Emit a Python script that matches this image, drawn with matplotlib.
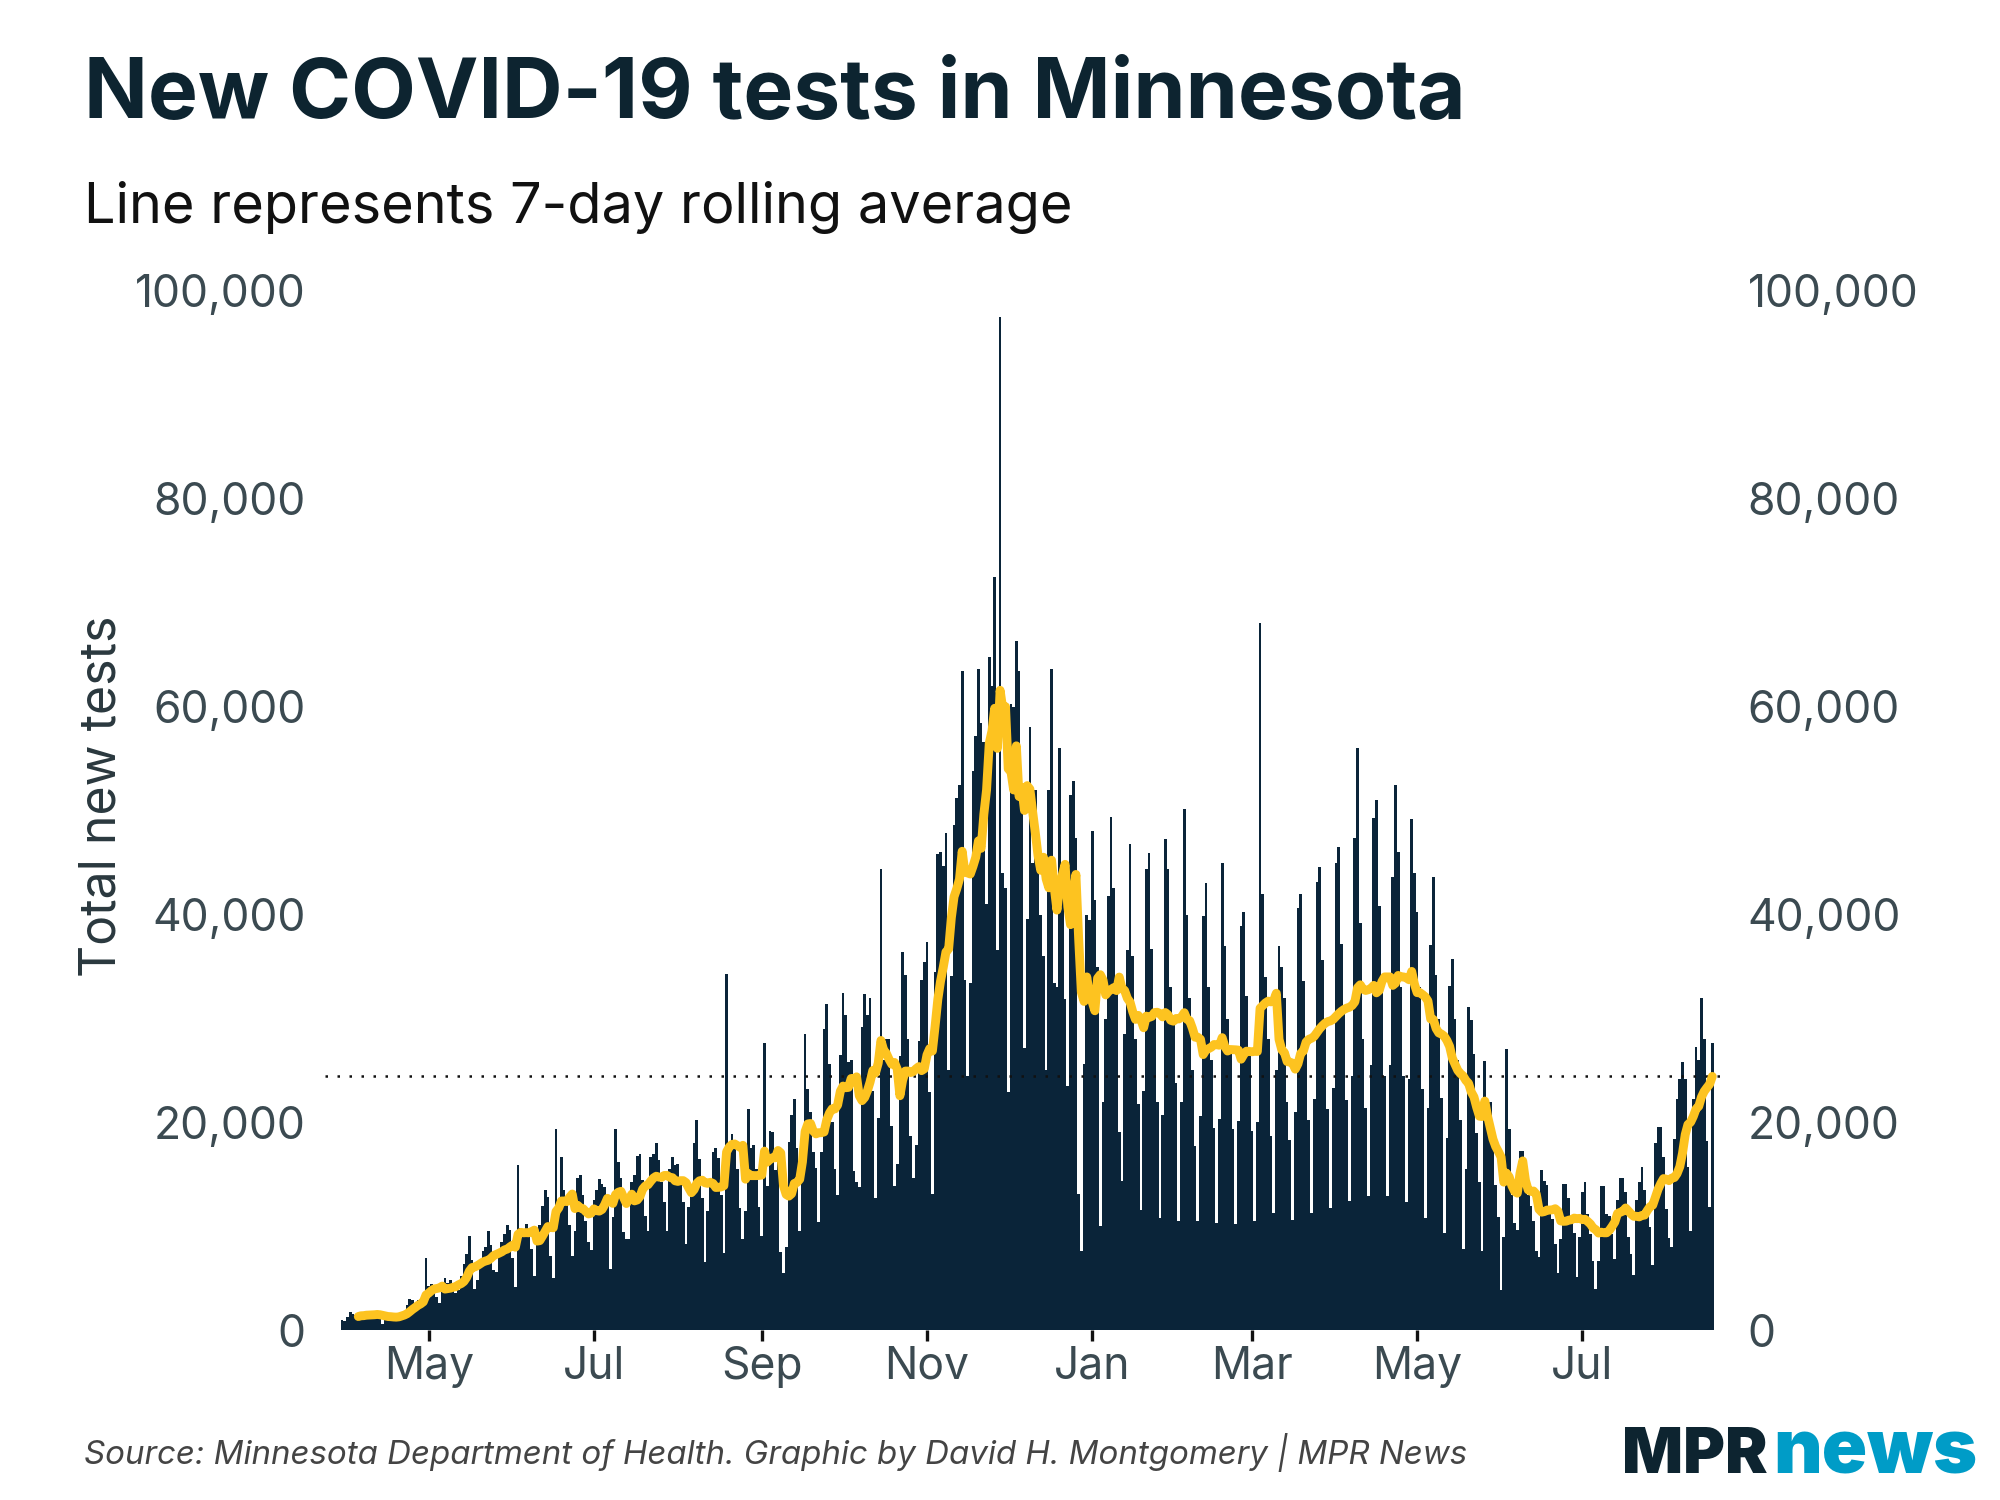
import numpy as np
import pandas as pd
import matplotlib
matplotlib.use("Agg")
import matplotlib.pyplot as plt
import matplotlib.dates as mdates
from matplotlib.ticker import FuncFormatter

plt.rcParams["font.family"] = ["Inter", "DejaVu Sans"]

NAVY = "#0a2439"
GOLD = "#fdc320"
TEXT_DARK = "#0d2430"
TEXT_GREY = "#3b4a51"

first_day = "2020-03-30"

# new tests reported per day, in thousands
# first value is Mon Mar 30 2020, then one row per week (Tue .. Mon)
new_tests_k = [
    1.0,
    0.9, 1.3, 1.8, 1.6, 1.5, 1.2, 1.5,
    1.0, 1.6, 1.9, 1.7, 1.6, 1.4, 1.3,
    0.6, 1.2, 1.5, 1.6, 1.4, 1.3, 1.5,
    1.2, 1.8, 2.4, 3.0, 2.9, 2.6, 2.9,
    2.2, 3.2, 7.0, 4.3, 4.5, 3.8, 3.2,
    2.6, 4.4, 5.0, 4.6, 4.8, 4.4, 3.6,
    3.9, 5.2, 6.4, 7.3, 9.1, 6.8, 4.0,
    4.8, 6.4, 7.6, 8.0, 9.6, 8.2, 5.8,
    5.6, 7.2, 8.5, 9.3, 10.1, 9.7, 7.0,
    4.2, 15.9, 9.8, 9.0, 10.2, 9.6, 7.8,
    5.2, 8.5, 10.1, 12.0, 13.5, 12.8, 7.2,
    5.0, 19.4, 12.5, 16.7, 13.5, 12.4, 10.1,
    7.2, 9.6, 14.7, 14.9, 13.0, 10.5, 8.5,
    7.7, 12.5, 13.5, 14.6, 14.1, 13.8, 12.7,
    5.9, 10.9, 19.4, 16.2, 14.7, 9.5, 8.8,
    8.8, 14.3, 14.9, 16.8, 17.0, 14.5, 11.0,
    9.6, 16.7, 17.0, 18.0, 16.4, 14.3, 12.3,
    9.6, 15.5, 16.7, 15.9, 16.0, 14.8, 12.3,
    8.3, 11.9, 13.5, 18.0, 20.2, 16.5, 12.7,
    6.6, 11.5, 14.2, 17.2, 17.5, 16.6, 13.0,
    7.4, 34.3, 17.5, 18.9, 17.8, 15.5, 11.8,
    8.8, 11.5, 21.3, 17.5, 17.8, 15.5, 11.9,
    9.1, 27.6, 13.9, 19.2, 19.1, 15.4, 16.8,
    7.5, 5.5, 8.0, 18.1, 20.7, 22.3, 17.5,
    9.6, 17.2, 28.5, 23.2, 21.0, 17.2, 15.6,
    10.4, 17.2, 29.0, 31.4, 25.6, 20.0, 15.5,
    13.0, 26.5, 32.5, 30.3, 25.8, 26.0, 15.3,
    14.3, 13.8, 29.2, 32.4, 30.3, 32.0, 23.0,
    12.7, 20.4, 44.4, 26.0, 28.0, 28.0, 19.7,
    13.9, 16.0, 26.4, 36.4, 34.2, 28.0, 18.7,
    14.7, 17.8, 27.8, 33.7, 35.4, 37.4, 22.9,
    13.1, 34.5, 45.8, 46.0, 44.7, 47.8, 25.0,
    34.1, 48.6, 51.2, 52.5, 63.4, 33.7, 24.5,
    33.4, 53.8, 57.2, 63.6, 58.4, 56.6, 41.0,
    64.8, 62.0, 72.5, 36.6, 97.5, 44.0, 42.6,
    22.9, 60.3, 60.0, 66.3, 63.4, 50.0, 27.2,
    39.6, 58.0, 45.0, 52.0, 48.0, 40.0, 36.0,
    25.0, 52.0, 63.6, 33.4, 33.0, 56.0, 43.9,
    31.9, 23.5, 51.5, 52.8, 47.4, 13.1, 7.6,
    25.6, 40.0, 39.5, 48.0, 41.4, 35.0, 10.0,
    22.0, 30.0, 41.8, 49.4, 42.6, 33.0, 19.1,
    14.4, 28.5, 36.6, 46.8, 36.0, 28.0, 21.8,
    11.6, 23.0, 44.4, 45.9, 36.7, 30.6, 22.0,
    10.8, 20.7, 47.3, 44.4, 33.0, 30.0, 23.8,
    10.5, 22.0, 50.2, 40.0, 32.0, 25.0, 17.7,
    10.5, 20.6, 39.9, 43.0, 33.0, 26.0, 19.5,
    10.3, 20.3, 45.0, 37.0, 30.0, 27.0, 19.4,
    10.2, 20.1, 38.9, 40.2, 32.2, 26.8, 19.2,
    10.5, 20.0, 68.0, 42.0, 34.0, 28.0, 18.7,
    11.3, 25.0, 37.0, 35.0, 32.0, 22.0, 18.3,
    10.6, 21.0, 40.6, 42.0, 33.6, 28.0, 20.2,
    11.3, 22.3, 43.1, 44.6, 35.6, 29.7, 21.3,
    11.8, 23.3, 45.0, 46.5, 37.2, 31.0, 22.2,
    12.4, 24.5, 47.4, 56.0, 39.2, 28.0, 21.4,
    12.9, 25.5, 49.3, 51.0, 40.8, 34.0, 24.5,
    12.9, 25.5, 43.6, 52.5, 46.0, 33.0, 24.5,
    12.3, 24.2, 49.2, 44.0, 40.2, 33.0, 23.2,
    10.8, 21.4, 37.1, 43.6, 34.2, 30.0, 22.4,
    9.4, 18.5, 33.1, 35.7, 30.0, 26.0, 20.2,
    7.8, 15.5, 31.1, 29.9, 26.6, 19.0, 14.3,
    7.6, 25.9, 21.0, 22.0, 19.0, 14.0, 10.9,
    3.9, 9.0, 27.1, 19.4, 13.0, 10.3, 9.7,
    17.3, 17.3, 14.0, 13.0, 12.0, 10.5, 7.6,
    7.1, 15.4, 14.4, 14.0, 12.0, 10.7, 8.3,
    5.5, 8.8, 14.1, 14.1, 12.7, 11.0, 9.4,
    5.1, 9.0, 13.3, 14.3, 11.2, 9.3, 6.7,
    4.0, 6.7, 13.9, 13.9, 11.2, 11.0, 9.3,
    6.9, 12.5, 14.7, 14.7, 13.3, 9.0, 7.3,
    5.3, 12.5, 14.3, 15.7, 13.5, 12.1, 9.9,
    6.3, 18.0, 19.6, 19.6, 16.7, 11.7, 8.9,
    8.0, 18.4, 22.3, 24.2, 25.8, 24.2, 15.7,
    9.6, 22.3, 27.3, 26.0, 32.0, 28.0, 18.2,
    11.9, 27.6,
]

y_ticks = [0, 20000, 40000, 60000, 80000, 100000]
tick_months = (1, 3, 5, 7, 9, 11)

dates = pd.date_range(first_day, periods=len(new_tests_k), freq="D")
tests = np.array(new_tests_k) * 1000
rolling = pd.Series(tests, index=dates).rolling(7).mean()

fig = plt.figure(figsize=(10, 7.5), dpi=200)
fig.patch.set_facecolor("white")
ax = fig.add_axes([0.1625, 0.1131, 0.7015, 0.693])

ax.bar(dates, tests, width=1.0, color=NAVY, linewidth=0, zorder=2)
ax.plot(rolling.index, rolling.values, color=GOLD, lw=3.2,
        solid_capstyle="round", solid_joinstyle="round", zorder=4)
# dotted reference at the latest 7-day average
ax.axhline(rolling.iloc[-1], color="#111111", lw=0.9, ls=(0, (1, 3.8)), zorder=3)

x0 = mdates.date2num(dates[0])
ax.set_xlim(x0 - 6.3, x0 + 511.8)
ax.set_ylim(0, 100000)

for s in ax.spines.values():
    s.set_visible(False)

ax.set_yticks(y_ticks)
ax.yaxis.set_major_formatter(FuncFormatter(lambda v, p: f"{v:,.0f}"))
ax.tick_params(axis="y", length=0, labelsize=16, labelcolor=TEXT_GREY,
               pad=7, labelleft=True, labelright=True)

ax.xaxis.set_major_locator(mdates.MonthLocator(bymonth=tick_months))
ax.xaxis.set_major_formatter(mdates.DateFormatter("%b"))
ax.tick_params(axis="x", length=4, width=1.2, color="#111111",
               labelsize=16, labelcolor=TEXT_GREY, pad=1.5)

fig.text(0.042, 0.921, "New COVID-19 tests in Minnesota", fontsize=30.2,
         fontweight="bold", color=TEXT_DARK, ha="left", va="baseline")
fig.text(0.042, 0.851, "Line represents 7-day rolling average", fontsize=20.1,
         color="#111111", ha="left", va="baseline")
fig.text(0.051, 0.469, "Total new tests", rotation=90, fontsize=18,
         color="#2a383e", ha="center", va="center")

fig.text(0.042, 0.024,
         "Source: Minnesota Department of Health. Graphic by David H. Montgomery | MPR News",
         fontsize=11.9, style="italic", color="#444444", ha="left", va="baseline")
fig.text(0.884, 0.018, "MPR", fontsize=23, fontweight="black", color=TEXT_DARK,
         ha="right", va="baseline")
fig.text(0.9885, 0.018, "news", fontsize=27, fontweight="black", color="#009cc7",
         ha="right", va="baseline")

fig.savefig("out.png", dpi=200, facecolor="white")
